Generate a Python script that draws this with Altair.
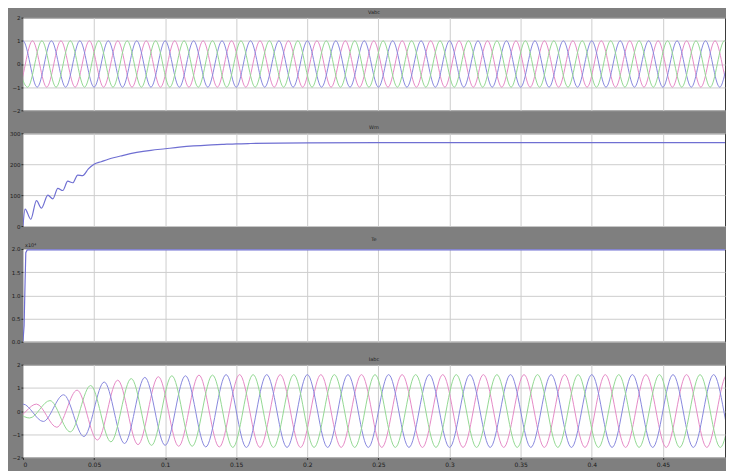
import altair as alt
import pandas as pd

# ---------------- data ----------------
x_ticks = [0, 0.05, 0.1, 0.15, 0.2, 0.25, 0.3, 0.35, 0.4, 0.45]
x_visible_max = 0.4937

panel_titles = ["Vabc", "Wm", "Te", "Iabc"]
phase_names = ["a", "b", "c"]

# Panel 1: three-phase voltage
vabc_freq_hz = 50
vabc_amplitude = [1.0, 1.0, 1.0]
vabc_first_peak_s = [0.0067, 0.0, 0.0133]
vabc_y_ticks = [-2, -1, 0, 1, 2]

# Panel 2: speed
wm_t = [0, 0.0015, 0.0055, 0.0095, 0.013, 0.0175, 0.021, 0.0245, 0.028, 0.0315,
        0.035, 0.0385, 0.042, 0.046, 0.05, 0.055, 0.06, 0.07, 0.08, 0.09, 0.1,
        0.11, 0.12, 0.13, 0.14, 0.15, 0.16, 0.18, 0.2, 0.25, 0.3, 0.4, 0.5]
wm_v = [0, 55, 22, 82, 58, 100, 88, 122, 115, 145, 140, 165, 163, 185, 200,
        208, 216, 228, 238, 245, 250, 255, 259, 262, 264, 266, 267, 268, 269,
        270, 270, 270, 270]
wm_y_ticks = [0, 100, 200, 300]

# Panel 3: torque (x10^4)
te_t = [0, 0.0008, 0.0015, 0.002, 0.003, 0.5]
te_v = [0, 0.35, 1.3, 1.92, 1.98, 1.98]
te_y_ticks = [0, 0.5, 1, 1.5, 2]
te_exponent_label = "x10\u2074"

# Panel 4: three-phase current with growing envelope
iabc_freq_hz = 35
iabc_env_t = [0, 0.01, 0.02, 0.03, 0.04, 0.05, 0.06, 0.07, 0.08, 0.09, 0.10, 0.12, 0.14]
iabc_env_amp = [0.3, 0.45, 0.7, 0.9, 1.1, 1.25, 1.33, 1.4, 1.45, 1.48, 1.52, 1.55, 1.57]
iabc_first_peak_s = [0.0095, 0.0, 0.019]
iabc_y_ticks = [-2, -1, 0, 1, 2]

# ---------------- styles ----------------
phase_colors = ["#e58ac6", "#8888dd", "#93d893"]
line_blue = "#6f6fd2"
W, H = 704, 93


def extremes(freq, first_peaks, amp_lookup):
    half = 0.5 / freq
    rows = []
    for name, p0 in zip(phase_names, first_peaks):
        k = -2
        while True:
            t = p0 + k * half
            if t > 0.52:
                break
            sign = 1 if k % 2 == 0 else -1
            rows.append({"t": t, "v": sign * amp_lookup(name, t), "phase": name})
            k += 1
    return pd.DataFrame(rows)


def vabc_amp(name, t):
    return vabc_amplitude[phase_names.index(name)]


def iabc_amp(name, t):
    a = iabc_env_amp[0]
    for tt, aa in zip(iabc_env_t, iabc_env_amp):
        if t >= tt:
            a = aa
    return a


vabc_df = extremes(vabc_freq_hz, vabc_first_peak_s, vabc_amp)
iabc_df = extremes(iabc_freq_hz, iabc_first_peak_s, iabc_amp)
wm_df = pd.DataFrame({"t": wm_t, "v": wm_v})
te_df = pd.DataFrame({"t": te_t, "v": te_v})

color_scale = alt.Scale(domain=phase_names, range=phase_colors)


def x_enc(show_labels):
    return alt.X(
        "t:Q",
        scale=alt.Scale(domain=[0, x_visible_max], nice=False, zero=False),
        axis=alt.Axis(values=x_ticks, labels=show_labels, ticks=show_labels,
                      tickSize=2, format=".2~f", title=None, grid=True,
                      labelFontSize=6, labelPadding=2),
    )


def y_enc(domain, ticks):
    return alt.Y(
        "v:Q",
        scale=alt.Scale(domain=domain, nice=False, zero=False),
        axis=alt.Axis(values=ticks, title=None, grid=True, tickSize=2,
                      labelFontSize=5.5, labelPadding=1, minExtent=14, maxExtent=14),
    )


def title(txt):
    return alt.TitleParams(txt, fontSize=5, offset=1, color="#222222",
                           fontWeight="normal", anchor="middle")


p1 = alt.Chart(vabc_df).mark_line(interpolate="monotone", strokeWidth=1, clip=True).encode(
    x=x_enc(False), y=y_enc([-2, 2], vabc_y_ticks),
    color=alt.Color("phase:N", scale=color_scale, legend=None),
    detail="phase:N",
).properties(width=W, height=H, title=title(panel_titles[0]))

p2 = alt.Chart(wm_df).mark_line(strokeWidth=1.2, color=line_blue, clip=True,
                                interpolate="monotone").encode(
    x=x_enc(False), y=y_enc([0, 300], wm_y_ticks),
).properties(width=W, height=H, title=title(panel_titles[1]))

te_line = alt.Chart(te_df).mark_line(strokeWidth=1.2, color=line_blue, clip=True).encode(
    x=x_enc(False), y=y_enc([0, 2], te_y_ticks),
)
te_exp = alt.Chart(pd.DataFrame({"s": [te_exponent_label]})).mark_text(
    fontSize=5, color="#222222", align="left", baseline="bottom"
).encode(text="s:N", x=alt.value(2), y=alt.value(-1))
p3 = alt.layer(te_line, te_exp).properties(width=W, height=H, title=title(panel_titles[2]))

p4 = alt.Chart(iabc_df).mark_line(interpolate="monotone", strokeWidth=1, clip=True).encode(
    x=x_enc(True), y=y_enc([-2, 2], iabc_y_ticks),
    color=alt.Color("phase:N", scale=color_scale, legend=None),
    detail="phase:N",
).properties(width=W, height=H, title=title(panel_titles[3]))

chart = alt.vconcat(p1, p2, p3, p4, spacing=23, bounds="flush").properties(
    padding={"left": 0, "top": 0, "right": 0, "bottom": 2}
).configure(
    background="#7f7f7f",
    font="DejaVu Sans",
).configure_view(
    fill="white", stroke="#3a3a3a", strokeWidth=1
).configure_axis(
    labelColor="#1a1a1a", tickColor="#2a2a2a", gridColor="#cdcdcd",
    gridWidth=1, domain=False,
)

chart.save("out.html", embed_options={"renderer": "svg", "actions": False})
